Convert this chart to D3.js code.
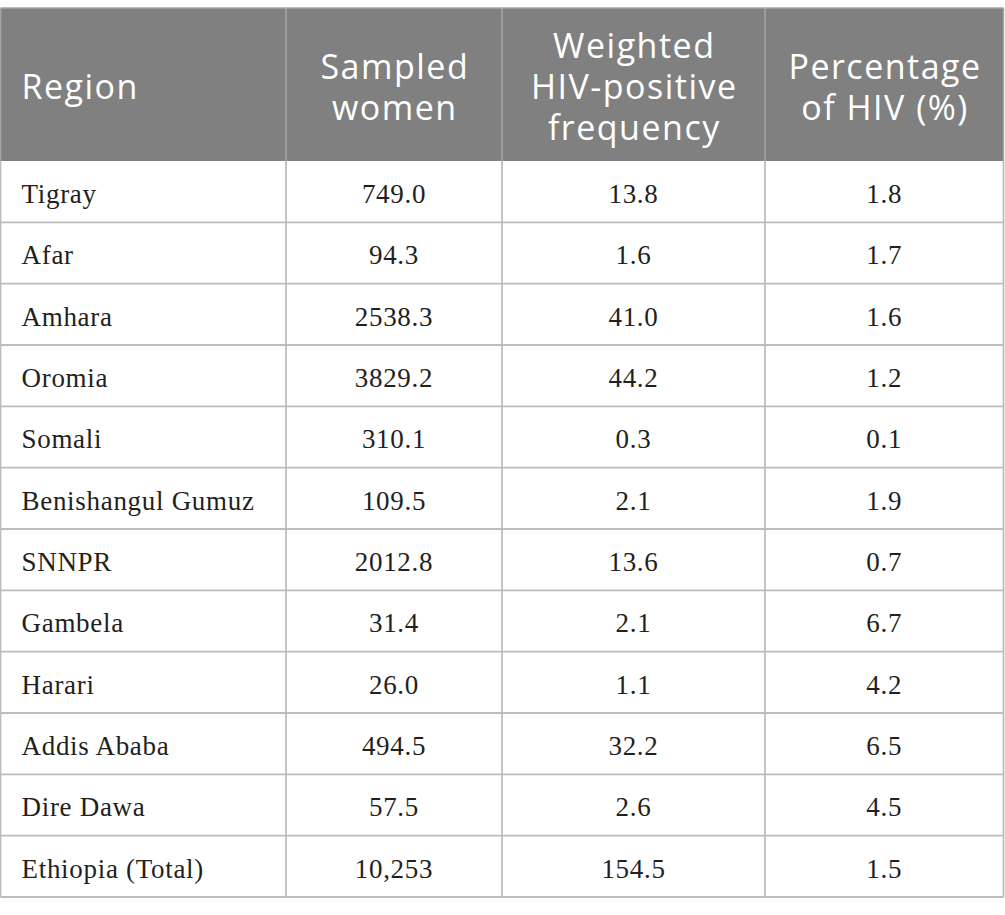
<!DOCTYPE html>
<html>
<head>
<meta charset="utf-8">
<script src="https://cdn.jsdelivr.net/npm/d3@7"></script>
<style>
  body { margin: 0; background: #fff; }
</style>
</head>
<body>
<div id="chart"></div>
<script>
// table content
const columns = [["Region"], ["Sampled", "women"], ["Weighted", "HIV-positive", "frequency"], ["Percentage", "of HIV (%)"]];
const regions = ["Tigray", "Afar", "Amhara", "Oromia", "Somali", "Benishangul Gumuz", "SNNPR", "Gambela", "Harari", "Addis Ababa", "Dire Dawa", "Ethiopia (Total)"];
const sampledWomen = ["749.0", "94.3", "2538.3", "3829.2", "310.1", "109.5", "2012.8", "31.4", "26.0", "494.5", "57.5", "10,253"];
const hivFrequency = ["13.8", "1.6", "41.0", "44.2", "0.3", "2.1", "13.6", "2.1", "1.1", "32.2", "2.6", "154.5"];
const hivPercent = ["1.8", "1.7", "1.6", "1.2", "0.1", "1.9", "0.7", "6.7", "4.2", "6.5", "4.5", "1.5"];

const width = 1005, height = 915;
const HEADER_FILL = "#808080";
const HEADER_LINE = "#a6a6a6";
const GRID_LINE = "#bdbdbd";
const TEXT_COLOR = "#231f20";

const tableTop = 8, headerBottom = 161, tableBottom = 897;
const colEdges = [0.5, 286, 502, 765, 1003.5];

var svg = d3.select("#chart")
    .append("svg")
    .attr("width", width)
    .attr("height", height);

var rowScale = d3.scaleBand()
    .domain(regions)
    .range([headerBottom, tableBottom]);

var colScale = d3.scaleOrdinal()
    .domain(d3.range(4))
    .range(colEdges.slice(0, 4));
var colWidth = i => colEdges[i + 1] - colEdges[i];

// header band
svg.append("rect")
    .attr("x", colEdges[0])
    .attr("y", tableTop)
    .attr("width", colEdges[4] - colEdges[0])
    .attr("height", headerBottom - tableTop)
    .attr("fill", HEADER_FILL);

var lineGap = 41;
columns.forEach((lines, i) => {
    var cy = (tableTop + headerBottom) / 2 + 2.5;
    var startY = cy - (lines.length - 1) * lineGap / 2;
    var t = svg.append("text")
        .attr("font-family", "'Open Sans', 'Noto Sans', sans-serif")
        .attr("font-size", 34)
        .attr("letter-spacing", 1.5)
        .attr("fill", "#fff")
        .attr("text-anchor", i === 0 ? "start" : "middle");
    lines.forEach((ln, j) => {
        t.append("tspan")
            .attr("x", i === 0 ? colScale(i) + 21 : colScale(i) + colWidth(i) / 2 + 0.8)
            .attr("y", startY + j * lineGap)
            .attr("dy", "0.36em")
            .text(ln);
    });
});

// header column dividers
svg.selectAll(".hdiv")
    .data(colEdges)
    .enter()
    .append("line")
    .attr("x1", d => d).attr("x2", d => d)
    .attr("y1", tableTop).attr("y2", headerBottom)
    .attr("stroke", HEADER_LINE)
    .attr("stroke-width", 1.5);

svg.append("line")
    .attr("x1", colEdges[0]).attr("x2", colEdges[4])
    .attr("y1", tableTop).attr("y2", tableTop)
    .attr("stroke", HEADER_LINE)
    .attr("stroke-width", 1.5);

// body grid
svg.selectAll(".hline")
    .data(regions)
    .enter()
    .append("line")
    .attr("x1", colEdges[0]).attr("x2", colEdges[4])
    .attr("y1", d => rowScale(d) + rowScale.bandwidth())
    .attr("y2", d => rowScale(d) + rowScale.bandwidth())
    .attr("stroke", GRID_LINE)
    .attr("stroke-width", 1.8);

svg.selectAll(".vline")
    .data(colEdges)
    .enter()
    .append("line")
    .attr("x1", d => d).attr("x2", d => d)
    .attr("y1", headerBottom).attr("y2", tableBottom)
    .attr("stroke", GRID_LINE)
    .attr("stroke-width", 1.8);

// body text
var cellCols = [regions, sampledWomen, hivFrequency, hivPercent];
cellCols.forEach((vals, i) => {
    svg.selectAll(".c" + i)
        .data(vals)
        .enter()
        .append("text")
        .attr("x", i === 0 ? colScale(i) + 21 : colScale(i) + colWidth(i) / 2)
        .attr("y", (d, k) => rowScale(regions[k]) + rowScale.bandwidth() / 2)
        .attr("dy", "0.42em")
        .attr("text-anchor", i === 0 ? "start" : "middle")
        .attr("font-family", "'Liberation Serif', 'Times New Roman', serif")
        .attr("font-size", 27)
        .attr("letter-spacing", 0.7)
        .attr("fill", TEXT_COLOR)
        .text(d => d);
});
</script>
</body>
</html>
